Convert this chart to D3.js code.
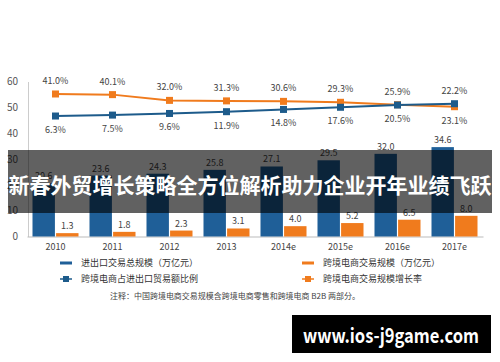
<!DOCTYPE html>
<html>
<head>
<meta charset="utf-8">
<script src="https://cdn.jsdelivr.net/npm/d3@7"></script>
<style>
  body { margin: 0; background: #fff; }
  text { font-family: "Noto Sans CJK SC", "Noto Sans", sans-serif; }
</style>
</head>
<body>
<div id="chart"></div>
<script>
// 1. data
var years = ["2010", "2011", "2012", "2013", "2014e", "2015e", "2016e", "2017e"];
var tradeTotal = [20.6, 23.6, 24.3, 25.8, 27.1, 29.5, 32.0, 34.6];   // 进出口交易总规模
var ecomScale = [1.3, 1.8, 2.3, 3.1, 4.0, 5.2, 6.5, 8.0];            // 跨境电商交易规模
var ecomShare = [6.3, 7.5, 9.6, 11.9, 14.8, 17.6, 20.5, 22.2];       // 占进出口贸易额比例 (%)
var ecomGrowth = [41.0, 40.1, 32.0, 31.3, 30.6, 29.3, 25.9, 23.1];   // 交易规模增长率 (%)
var yTicks = [0, 10, 20, 30, 40, 50, 60];
var legendNames = ["进出口交易总规模（万亿元）", "跨境电商交易规模（万亿元）", "跨境电商占进出口贸易额比例", "跨境电商交易规模增长率"];
var noteText = "注释：中国跨境电商交易规模含跨境电商零售和跨境电商 B2B 两部分。";
var bannerText = "新春外贸增长策略全方位解析助力企业开年业绩飞跃";
var watermarkText = "www.ios-j9game.com";

var width = 500;
var height = 362;
var blue = "#1f5f98";
var lineBlue = "#1d5b8b";
var orange = "#f07b1d";

var svg = d3.select("#chart").append("svg").attr("width", width).attr("height", height);

// 2. scales
var x = d3.scaleBand().domain(years).range([27, 483]);
var x1 = d3.scaleBand().domain(["total", "ecom"]).range([5.5, 51.5]).paddingInner(0.05);
var y = d3.scaleLinear().domain([0, 60]).range([236.5, 81.5]);
// hidden secondary scales for the two percentage lines
var yGrowth = d3.scaleLinear().domain([0, 100]).range([123.1, 52.1]);
var yShare = d3.scaleLinear().domain([0, 100]).range([120.9, 43.5]);

// 3. axes
var axisY = svg.append("g")
  .attr("transform", "translate(28,0)")
  .call(d3.axisLeft(y).tickValues(yTicks).tickSize(0).tickPadding(10));
axisY.select(".domain").attr("stroke", "#ccc");
axisY.selectAll("text").attr("fill", "#555").attr("font-size", "10px");

var axisX = svg.append("g")
  .attr("transform", "translate(0," + y(0) + ")")
  .call(d3.axisBottom(x).tickSize(0).tickPadding(7).tickSizeOuter(0));
axisX.select(".domain").attr("stroke", "#bbb");
axisX.selectAll("text").attr("fill", "#444").attr("font-size", "9px");

// 4. bars
var groups = svg.append("g").selectAll("g")
  .data(years)
  .enter()
  .append("g")
  .attr("transform", function(d) { return "translate(" + x(d) + ",0)"; });

groups.append("rect")
  .attr("x", x1("total"))
  .attr("width", x1.bandwidth())
  .attr("y", function(d, i) { return y(tradeTotal[i]); })
  .attr("height", function(d, i) { return y(0) - y(tradeTotal[i]); })
  .attr("fill", blue);

groups.append("rect")
  .attr("x", x1("ecom"))
  .attr("width", x1.bandwidth())
  .attr("y", function(d, i) { return y(ecomScale[i]); })
  .attr("height", function(d, i) { return y(0) - y(ecomScale[i]); })
  .attr("fill", orange);

groups.append("text")
  .attr("x", x1("total") + x1.bandwidth() / 2)
  .attr("y", function(d, i) { return y(tradeTotal[i]) - 4; })
  .attr("text-anchor", "middle")
  .attr("font-size", "9px")
  .attr("fill", "#444")
  .text(function(d, i) { return d3.format(".1f")(tradeTotal[i]); });

groups.append("text")
  .attr("x", x1("ecom") + x1.bandwidth() / 2)
  .attr("y", function(d, i) { return y(ecomScale[i]) - 4; })
  .attr("text-anchor", "middle")
  .attr("font-size", "9px")
  .attr("fill", "#444")
  .text(function(d, i) { return d3.format(".1f")(ecomScale[i]); });

// 5. lines
function cx(d) { return x(d) + x.bandwidth() / 2; }

function drawLine(values, scale, color, labelAbove) {
  var line = d3.line()
    .x(function(d) { return cx(d); })
    .y(function(d, i) { return scale(values[i]); });
  svg.append("path")
    .datum(years)
    .attr("d", line)
    .attr("fill", "none")
    .attr("stroke", color)
    .attr("stroke-width", 2);
  svg.append("g").selectAll("rect")
    .data(years)
    .enter()
    .append("rect")
    .attr("x", function(d) { return cx(d) - 3.5; })
    .attr("y", function(d, i) { return scale(values[i]) - 3.5; })
    .attr("width", 7)
    .attr("height", 7)
    .attr("fill", color);
  svg.append("g").selectAll("text")
    .data(years)
    .enter()
    .append("text")
    .attr("x", function(d) { return cx(d); })
    .attr("y", function(d, i) {
      return labelAbove(i) ? scale(values[i]) - 10 : scale(values[i]) + 17;
    })
    .attr("text-anchor", "middle")
    .attr("font-size", "9px")
    .attr("fill", "#444")
    .text(function(d, i) { return d3.format(".1f")(values[i]) + "%"; });
}

var last = years.length - 1;
drawLine(ecomGrowth, yGrowth, orange, function(i) { return i !== last; });
drawLine(ecomShare, yShare, lineBlue, function(i) { return i === last; });

// 6. legend
var legendItems = [
  { name: legendNames[0], color: blue, marker: false, lx: 60, ly: 263 },
  { name: legendNames[1], color: orange, marker: false, lx: 302, ly: 263 },
  { name: legendNames[2], color: lineBlue, marker: true, lx: 60, ly: 279 },
  { name: legendNames[3], color: orange, marker: true, lx: 302, ly: 279 }
];
var legend = svg.append("g").selectAll("g")
  .data(legendItems)
  .enter()
  .append("g")
  .attr("transform", function(d) { return "translate(" + d.lx + "," + d.ly + ")"; });
legend.append("line")
  .attr("x1", 0).attr("x2", 12)
  .attr("stroke", function(d) { return d.color; })
  .attr("stroke-width", function(d) { return d.marker ? 1.5 : 3; });
legend.filter(function(d) { return d.marker; }).append("rect")
  .attr("x", 3).attr("y", -3).attr("width", 6).attr("height", 6)
  .attr("fill", function(d) { return d.color; });
legend.append("text")
  .attr("x", 21)
  .attr("dy", "0.35em")
  .attr("font-size", "9px")
  .attr("fill", "#333")
  .text(function(d) { return d.name; });

svg.append("text")
  .attr("x", 110)
  .attr("y", 299)
  .attr("font-size", "8px")
  .attr("fill", "#444")
  .attr("textLength", 250)
  .attr("lengthAdjust", "spacing")
  .text(noteText);

// 7. banner overlay and watermark
svg.append("rect")
  .attr("x", 8).attr("y", 150)
  .attr("width", 484).attr("height", 63)
  .attr("fill", "rgba(0,0,0,0.62)");
svg.append("text")
  .attr("x", 250).attr("y", 183.5)
  .attr("text-anchor", "middle")
  .attr("dominant-baseline", "central")
  .attr("font-size", "21px")
  .attr("font-weight", "bold")
  .attr("fill", "#fff")
  .text(bannerText);

svg.append("rect")
  .attr("x", 292).attr("y", 315)
  .attr("width", 199).attr("height", 38)
  .attr("fill", "#000");
svg.append("text")
  .attr("x", 391).attr("y", 334)
  .attr("text-anchor", "middle")
  .attr("dominant-baseline", "central")
  .attr("font-family", "'Open Sans', sans-serif")
  .attr("font-size", "20px")
  .attr("font-weight", "bold")
  .attr("fill", "#fff")
  .attr("textLength", 176)
  .attr("lengthAdjust", "spacingAndGlyphs")
  .text(watermarkText);
</script>
</body>
</html>
